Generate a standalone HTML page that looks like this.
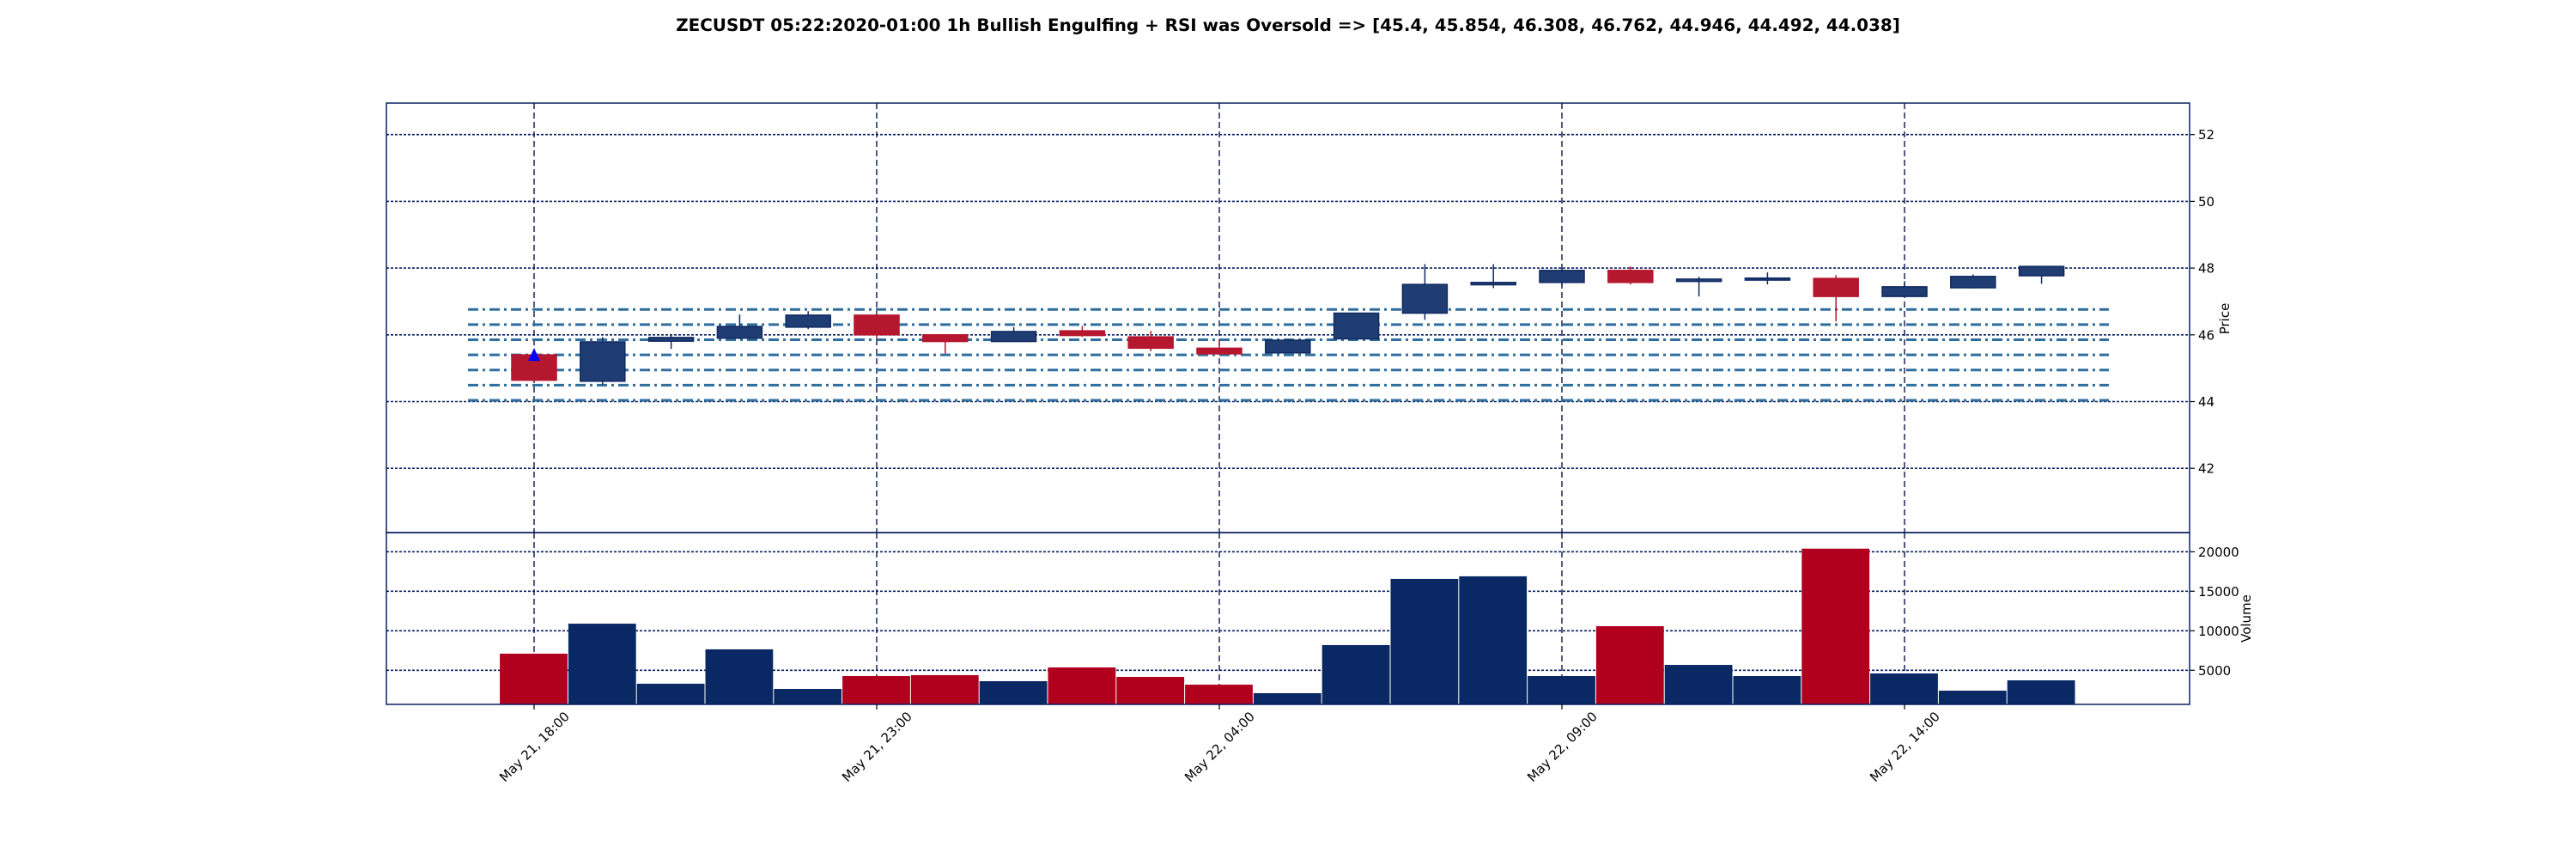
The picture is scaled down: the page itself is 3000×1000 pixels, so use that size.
<!DOCTYPE html>
<html><head><meta charset="utf-8"><style>
html,body{margin:0;padding:0;background:#fff;}
svg{display:block;font-family:"DejaVu Sans","Liberation Sans",sans-serif;}
</style></head><body>
<svg id="chart" width="3000" height="1000" viewBox="0 0 3000 1000" xmlns="http://www.w3.org/2000/svg">
<text x="1500" y="36" text-anchor="middle" font-size="19.9" font-weight="bold" fill="#000">ZECUSDT 05:22:2020-01:00 1h Bullish Engulfing + RSI was Oversold =&gt; [45.4, 45.854, 46.308, 46.762, 44.946, 44.492, 44.038]</text>
<g id="price-panel"></g>
<g id="volume-panel"></g>
<g id="x-axis"></g>
</svg>
<script>
const opens  = [45.40,44.61,45.81,45.90,46.23,46.59,46.00,45.80,46.12,45.94,45.60,45.46,45.88,46.65,47.50,47.57,47.93,47.60,47.64,47.69,47.15,47.41,47.77];
const closes = [44.64,45.79,45.92,46.25,46.59,46.00,45.80,46.10,45.98,45.60,45.43,45.84,46.65,47.51,47.57,47.93,47.57,47.67,47.70,47.15,47.44,47.75,48.05];
const highs  = [45.42,45.93,46.01,46.61,46.71,46.62,46.00,46.23,46.27,46.12,45.87,45.86,46.66,48.12,48.12,48.01,48.05,47.74,47.87,47.79,47.61,47.81,48.07];
const lows   = [44.62,44.51,45.58,45.88,46.17,45.87,45.44,45.78,45.94,45.51,45.42,45.44,45.86,46.45,47.40,47.47,47.51,47.15,47.51,46.40,47.13,47.39,47.53];
const volumes = [7100,10900,3300,7650,2640,4270,4380,3620,5360,4160,3180,2100,8190,16560,16890,4270,10580,5680,4270,20390,4600,2420,3730];
const levels = [45.4,45.854,46.308,46.762,44.946,44.492,44.038];
const priceTicks = [42,44,46,48,50,52];
const volumeTicks = [5000,10000,15000,20000];
const xTickIdx = [0,5,10,15,20];
const xTickLabels = ["May 21, 18:00","May 21, 23:00","May 22, 04:00","May 22, 09:00","May 22, 14:00"];
const signalIdx = 0;
const signalPrice = 45.4;

const NS="http://www.w3.org/2000/svg";
const L=450,R=2550,PT=120,PB=620,VT=620,VB=820;
const x0=622,step=79.8;
const xs=i=>x0+i*step;
const py=p=>156.7+(52-p)*38.85;
const vy=v=>826.3-v*46/5000;
function mk(parent,tag,attrs){const e=document.createElementNS(NS,tag);for(const k in attrs)e.setAttribute(k,attrs[k]);parent.appendChild(e);return e;}
const pp=document.getElementById('price-panel');
const vp=document.getElementById('volume-panel');
const xa=document.getElementById('x-axis');
const NAVY="#0a2060";

priceTicks.forEach(t=>{
  const y=py(t);
  const g=mk(pp,'line',{x1:L,x2:R,y1:y,y2:y,stroke:NAVY,'stroke-width':1.6,'stroke-dasharray':'3,2'});
  
  
  mk(pp,'line',{x1:R,x2:R+6,y1:y,y2:y,stroke:'#000','stroke-width':1.2});
  const tx=mk(pp,'text',{x:R+10,y:y+5.5,'font-size':15,fill:'#000'});
  tx.textContent=t;
  
  
});
volumeTicks.forEach(t=>{
  const y=vy(t);
  const g=mk(vp,'line',{x1:L,x2:R,y1:y,y2:y,stroke:NAVY,'stroke-width':1.6,'stroke-dasharray':'3,2'});
  
  
  mk(vp,'line',{x1:R,x2:R+6,y1:y,y2:y,stroke:'#000','stroke-width':1.2});
  const tx=mk(vp,'text',{x:R+10,y:y+5.5,'font-size':15,fill:'#000'});
  tx.textContent=t;
  
  
});
xTickIdx.forEach((idx,k)=>{
  const x=xs(idx);
  const g1=mk(pp,'line',{x1:x,x2:x,y1:PT,y2:PB,stroke:'#08184a','stroke-width':1.4,'stroke-dasharray':'7,4'});
  
  
  const g2=mk(vp,'line',{x1:x,x2:x,y1:VT,y2:VB,stroke:'#08184a','stroke-width':1.4,'stroke-dasharray':'7,4'});
  
  
  mk(xa,'line',{x1:x,x2:x,y1:VB,y2:VB+6,stroke:'#000','stroke-width':1.2});
  const tx=mk(xa,'text',{x:0,y:0,'font-size':15,fill:'#000','text-anchor':'middle',transform:`translate(${x+4},${873}) rotate(-45)`});
  tx.textContent=xTickLabels[k];
  
  
});
levels.forEach(l=>{
  const y=py(l);
  const ln=mk(pp,'line',{x1:545,x2:2456,y1:y,y2:y,stroke:'#2f6e9e','stroke-width':3,'stroke-dasharray':'12,5,3,5'});
  
  
});
const cw=52;
opens.forEach((o,i)=>{
  const c=closes[i],x=xs(i),up=c>=o;
  const col=up?'#1f3c73':'#b5172f';
  const edge=up?'#0f2a60':'#b5172f';
  const w=mk(pp,'line',{x1:x,x2:x,y1:py(highs[i]),y2:py(lows[i]),stroke:edge,'stroke-width':1.5});
  
  
  const top=py(Math.max(o,c)),bot=py(Math.min(o,c));
  const b=mk(pp,'rect',{x:x-cw/2,y:top,width:cw,height:Math.max(bot-top,2),fill:col,stroke:edge,'stroke-width':1.5});
  
  
});
{
  const x=xs(signalIdx),y=py(signalPrice);
  const m=mk(pp,'polygon',{points:`${x},${y-8} ${x-7},${y+7} ${x+7},${y+7}`,fill:'#0000ff'});
  
  
}
volumes.forEach((v,i)=>{
  const up=closes[i]>=opens[i];
  const x=xs(i),y=vy(v);
  const b=mk(vp,'rect',{x:x-step/2,y:y,width:step-1,height:VB-y,fill:up?'#0a2864':'#b0001e'});
  
  
});
const f1=mk(pp,'rect',{x:L,y:PT,width:R-L,height:PB-PT,fill:'none',stroke:NAVY,'stroke-width':1.5});


const f2=mk(vp,'rect',{x:L,y:VT,width:R-L,height:VB-VT,fill:'none',stroke:NAVY,'stroke-width':1.5});


const t1=mk(pp,'text',{x:0,y:0,'font-size':15,fill:'#000','text-anchor':'middle',transform:'translate(2596,371) rotate(-90)'});
t1.textContent='Price';


const t2=mk(vp,'text',{x:0,y:0,'font-size':15,fill:'#000','text-anchor':'middle',transform:'translate(2621,720) rotate(-90)'});
t2.textContent='Volume';


</script>
</body></html>
